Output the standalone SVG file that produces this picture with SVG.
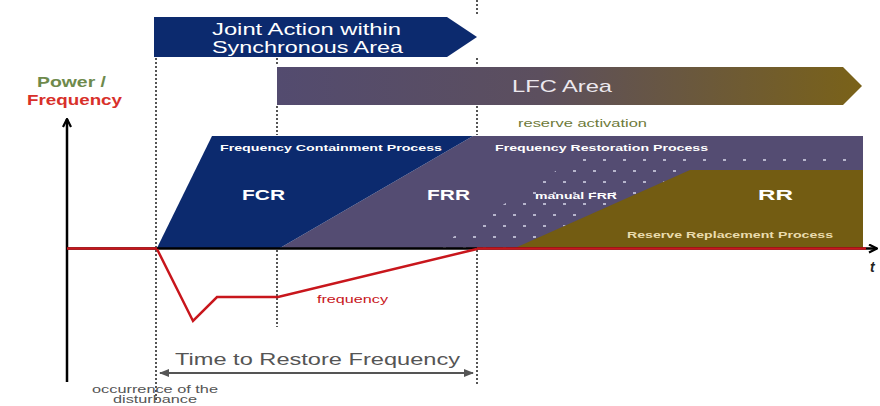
<svg xmlns="http://www.w3.org/2000/svg" width="880" height="406" viewBox="0 0 880 406">
<defs>
<linearGradient id="lfc" x1="0" x2="1" y1="0" y2="0">
<stop offset="0" stop-color="#534b6f"/>
<stop offset="0.45" stop-color="#5c4f5e"/>
<stop offset="1" stop-color="#7a6218"/>
</linearGradient>
<pattern id="dots" x="0" y="2" width="20" height="22" patternUnits="userSpaceOnUse">
<rect x="3" y="3" width="3" height="2" fill="#c8c8dc" opacity="0.85"/>
<rect x="13" y="14" width="3" height="2" fill="#c8c8dc" opacity="0.85"/>
</pattern>
<marker id="ah" markerWidth="10" markerHeight="10" refX="9" refY="5" orient="auto" markerUnits="userSpaceOnUse">
<path d="M1,1 L9,5 L1,9" fill="none" stroke="#000" stroke-width="2.2"/>
</marker>
<marker id="gh" markerWidth="10" markerHeight="8" refX="9" refY="4" orient="auto-start-reverse" markerUnits="userSpaceOnUse">
<path d="M0,0 L10,4 L0,8 Z" fill="#555"/>
</marker>
<style>
.sans{font-family:"Liberation Sans",Arial,sans-serif}
.w{fill:#fff}
.b{font-weight:bold}
.dot{stroke:#555;stroke-width:2;stroke-dasharray:2 2;fill:none}
</style>
</defs>
<rect width="880" height="406" fill="#fff"/>

<g id="joint-action">
<path d="M154,17 L447,17 L477,37 L447,57 L154,57 Z" fill="#0c2a6e"/>
<text class="sans w" x="212" y="35" font-size="16.5" textLength="189" lengthAdjust="spacingAndGlyphs">Joint Action within</text>
<text class="sans w" x="212" y="53" font-size="16.5" textLength="191" lengthAdjust="spacingAndGlyphs">Synchronous Area</text>
</g>

<g id="lfc-area">
<path d="M277,67 L843,67 L862,86 L843,105 L277,105 Z" fill="url(#lfc)"/>
<text class="sans" x="512" y="92" font-size="17" fill="#ece8ee" textLength="100" lengthAdjust="spacingAndGlyphs">LFC Area</text>
</g>

<text id="reserve-activation" class="sans" x="518" y="127" font-size="11" fill="#6e7a3a" textLength="129" lengthAdjust="spacingAndGlyphs">reserve activation</text>

<g id="frr">
<path d="M280,248 L473,136 L863,136 L863,248 Z" fill="#544c72"/>
<path d="M436,248 L582,154 L863,154 L863,170 L690,170 L515,248 Z" fill="url(#dots)"/>
<text class="sans w b" x="495" y="151" font-size="9.5" textLength="213" lengthAdjust="spacingAndGlyphs">Frequency Restoration Process</text>
<text class="sans w b" x="427" y="200" font-size="15" textLength="43" lengthAdjust="spacingAndGlyphs">FRR</text>
<text class="sans w b" x="535" y="199" font-size="9.5" textLength="82" lengthAdjust="spacingAndGlyphs">manual FRR</text>
</g>

<g id="fcr">
<path d="M157,248 L212,136 L473,136 L280,248 Z" fill="#0c2a6e"/>
<text class="sans w b" x="220" y="151" font-size="9.5" textLength="222" lengthAdjust="spacingAndGlyphs">Frequency Containment Process</text>
<text class="sans w b" x="242" y="200" font-size="15" textLength="43" lengthAdjust="spacingAndGlyphs">FCR</text>
</g>

<g id="rr">
<path d="M515,248 L690,170 L863,170 L863,248 Z" fill="#735c12"/>
<text class="sans w b" x="758" y="200" font-size="15" textLength="35" lengthAdjust="spacingAndGlyphs">RR</text>
<text class="sans b" x="627" y="238" font-size="9.5" fill="#eadcae" textLength="206" lengthAdjust="spacingAndGlyphs">Reserve Replacement Process</text>
</g>

<g id="connectors">
<line class="dot" x1="156" y1="58" x2="156" y2="400"/>
<line class="dot" x1="277" y1="58" x2="277" y2="66"/>
<line class="dot" x1="277" y1="106" x2="277" y2="135"/>
<line class="dot" x1="277" y1="250" x2="277" y2="327"/>
<line class="dot" x1="477" y1="0" x2="477" y2="16"/>
<line class="dot" x1="477" y1="58" x2="477" y2="66"/>
<line class="dot" x1="477" y1="106" x2="477" y2="135"/>
<line class="dot" x1="477" y1="250" x2="477" y2="385"/>
<line x1="67" y1="382" x2="67" y2="119" stroke="#000" stroke-width="2.5" marker-end="url(#ah)"/>
<line x1="67" y1="248.5" x2="877" y2="248.5" stroke="#000" stroke-width="2.5" marker-end="url(#ah)"/>
<line x1="67" y1="248.5" x2="157" y2="248.5" stroke="#c8161c" stroke-width="2.5"/>
<line x1="477" y1="248.5" x2="866" y2="248.5" stroke="#c8161c" stroke-width="2.5"/>
<polyline points="157,249 193,321 217,297 278,297 477,249" fill="none" stroke="#c8161c" stroke-width="2.5" stroke-linejoin="miter"/>
<line x1="160" y1="373" x2="473" y2="373" stroke="#555" stroke-width="2" marker-start="url(#gh)" marker-end="url(#gh)"/>
</g>

<text class="sans" x="870" y="272" font-size="14" font-style="italic" font-weight="bold" fill="#222">t</text>
<text class="sans" x="317" y="303" font-size="11" fill="#c8161c" textLength="71" lengthAdjust="spacingAndGlyphs">frequency</text>
<text class="sans" x="175" y="365" font-size="17" fill="#555" textLength="285" lengthAdjust="spacingAndGlyphs">Time to Restore Frequency</text>
<text class="sans" x="92" y="393" font-size="10" fill="#555" textLength="126" lengthAdjust="spacingAndGlyphs">occurrence of the</text>
<text class="sans" x="113" y="403" font-size="10" fill="#555" textLength="84" lengthAdjust="spacingAndGlyphs">disturbance</text>
<text class="sans b" x="37" y="87" font-size="15" fill="#6e8a4c" textLength="69" lengthAdjust="spacingAndGlyphs">Power /</text>
<text class="sans b" x="27" y="105" font-size="15" fill="#d8302a" textLength="95" lengthAdjust="spacingAndGlyphs">Frequency</text>
</svg>
